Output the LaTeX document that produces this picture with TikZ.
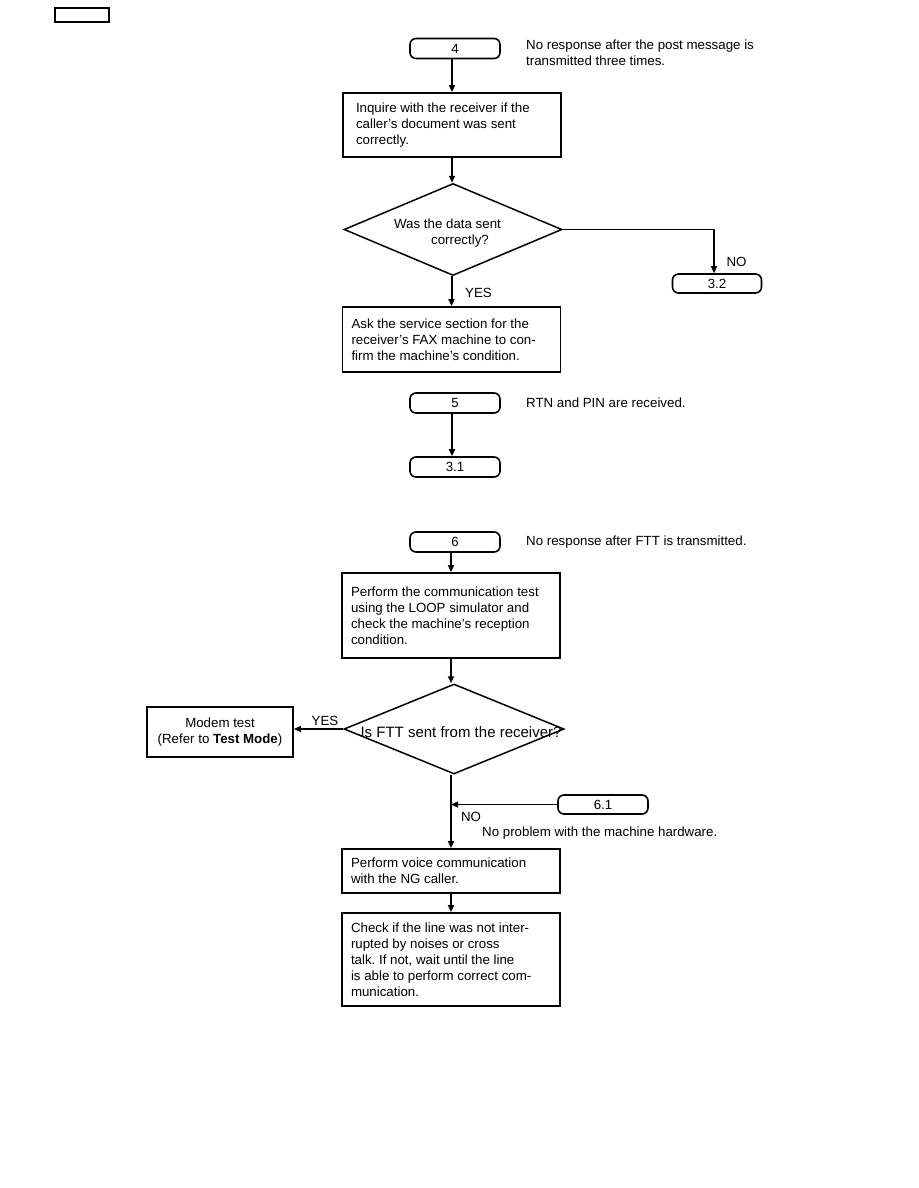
\documentclass[tikz,border=0pt]{standalone}
\usepackage{fontspec}
\setmainfont{Liberation Sans}
\usetikzlibrary{shapes.geometric,arrows.meta}
\begin{document}
\begin{tikzpicture}[x=1pt,y=-1pt,
  every node/.style={font=\fontsize{13.3pt}{16pt}\selectfont\frenchspacing, inner sep=0pt},
  term/.style={draw, rounded corners=6pt, line width=1.6pt, minimum width=90pt, minimum height=20pt},
  procbox/.style={draw, line width=1.8pt, align=flush left, inner xsep=9pt, text width=200pt},
  decision/.style={draw, diamond, line width=1.5pt, inner sep=0pt},
  note/.style={anchor=west, align=left},
  flow/.style={line width=2pt, -{Triangle[length=7pt,width=6pt]}},
  side/.style={line width=1.2pt, -{Triangle[length=7pt,width=6pt]}}
]
\useasboundingbox (0,0) rectangle (918,1188);
\node[draw, line width=1.5pt, minimum width=54pt, minimum height=14pt] (hdr) at (82,15) {};

% ---- 4
\node[term] (t4) at (455,48.5) {4};
\node[note] (n4) at (526,53) {No response after the post message is\\transmitted three times.};
\node[procbox, inner xsep=13pt, text width=192pt, minimum height=64pt] (b1) at (452,125) {Inquire with the receiver if the\\caller's document was sent\\correctly.};
\node[decision, minimum width=218pt, minimum height=92pt] (d1) at (453,229.5) {};
\node[align=center] (d1t) at (447.5,233) {Was the data sent\\\hspace*{25pt}correctly?};
\node[term, minimum width=89pt, minimum height=19pt] (t32) at (717,283.5) {3.2};
\node (no1) at (736.5,262) {NO};
\node (yes1) at (478.5,293) {YES};
\node[procbox, minimum height=65pt] (b2) at (451.5,339.5) {Ask the service section for the\\receiver's FAX machine to con-\\firm the machine's condition.};

\draw[flow] (t4.south -| b1.north) -- (b1.north);
\draw[flow] (b1.south) -- (b1.south |- d1.north);
\draw[side] (d1.east) -| ([xshift=-3pt]t32.north);
\draw[flow] (d1.south -| b2.north) -- (b2.north);

% ---- 5
\node[term] (t5) at (455,403) {5};
\node[note] (n5) at (526,403) {RTN and PIN are received.};
\node[term] (t31) at (455,467) {3.1};
\draw[flow] ([xshift=-3pt]t5.south) -- ([xshift=-3pt]t31.north);

% ---- 6
\node[term] (t6) at (455,542) {6};
\node[note] (n6) at (526,542) {No response after FTT is transmitted.};
\node[procbox, minimum height=85pt] (b3) at (451,615.5) {Perform the communication test\\using the LOOP simulator and\\check the machine's reception\\condition.};
\node[decision, minimum width=220pt, minimum height=90pt] (d2) at (454,729) {};
\node[font=\fontsize{15pt}{18pt}\selectfont] (d2t) at (461,732) {Is FTT sent from the receiver?};
\node[draw, line width=1.8pt, minimum width=146pt, minimum height=50pt, align=center] (modem) at (220,732) {Modem test\\(Refer to \textbf{Test Mode})};
\node (yes2) at (325,721) {YES};
\node[term, minimum height=19pt] (t61) at (603,804.5) {6.1};
\node (no2) at (471,817) {NO};
\node[note] (n61) at (482,833) {No problem with the machine hardware.};
\node[procbox, minimum height=44pt] (b4) at (451,871) {Perform voice communication\\with the NG caller.};
\node[procbox, minimum height=93pt] (b5) at (451,959.5) {Check if the line was not inter-\\rupted by noises or cross\\talk. If not, wait until the line\\is able to perform correct com-\\munication.};

\draw[flow] (t6.south -| b3.north) -- (b3.north);
\draw[flow] (b3.south) -- (b3.south |- d2.north);
\draw[side] (d2.west) -- (modem.east |- d2.west);
\draw[flow] (d2.south -| b4.north) -- (b4.north);
\draw[side] (t61.west) -- (t61.west -| b4.north);
\draw[flow] (b4.south) -- (b5.north);
\end{tikzpicture}
\end{document}
